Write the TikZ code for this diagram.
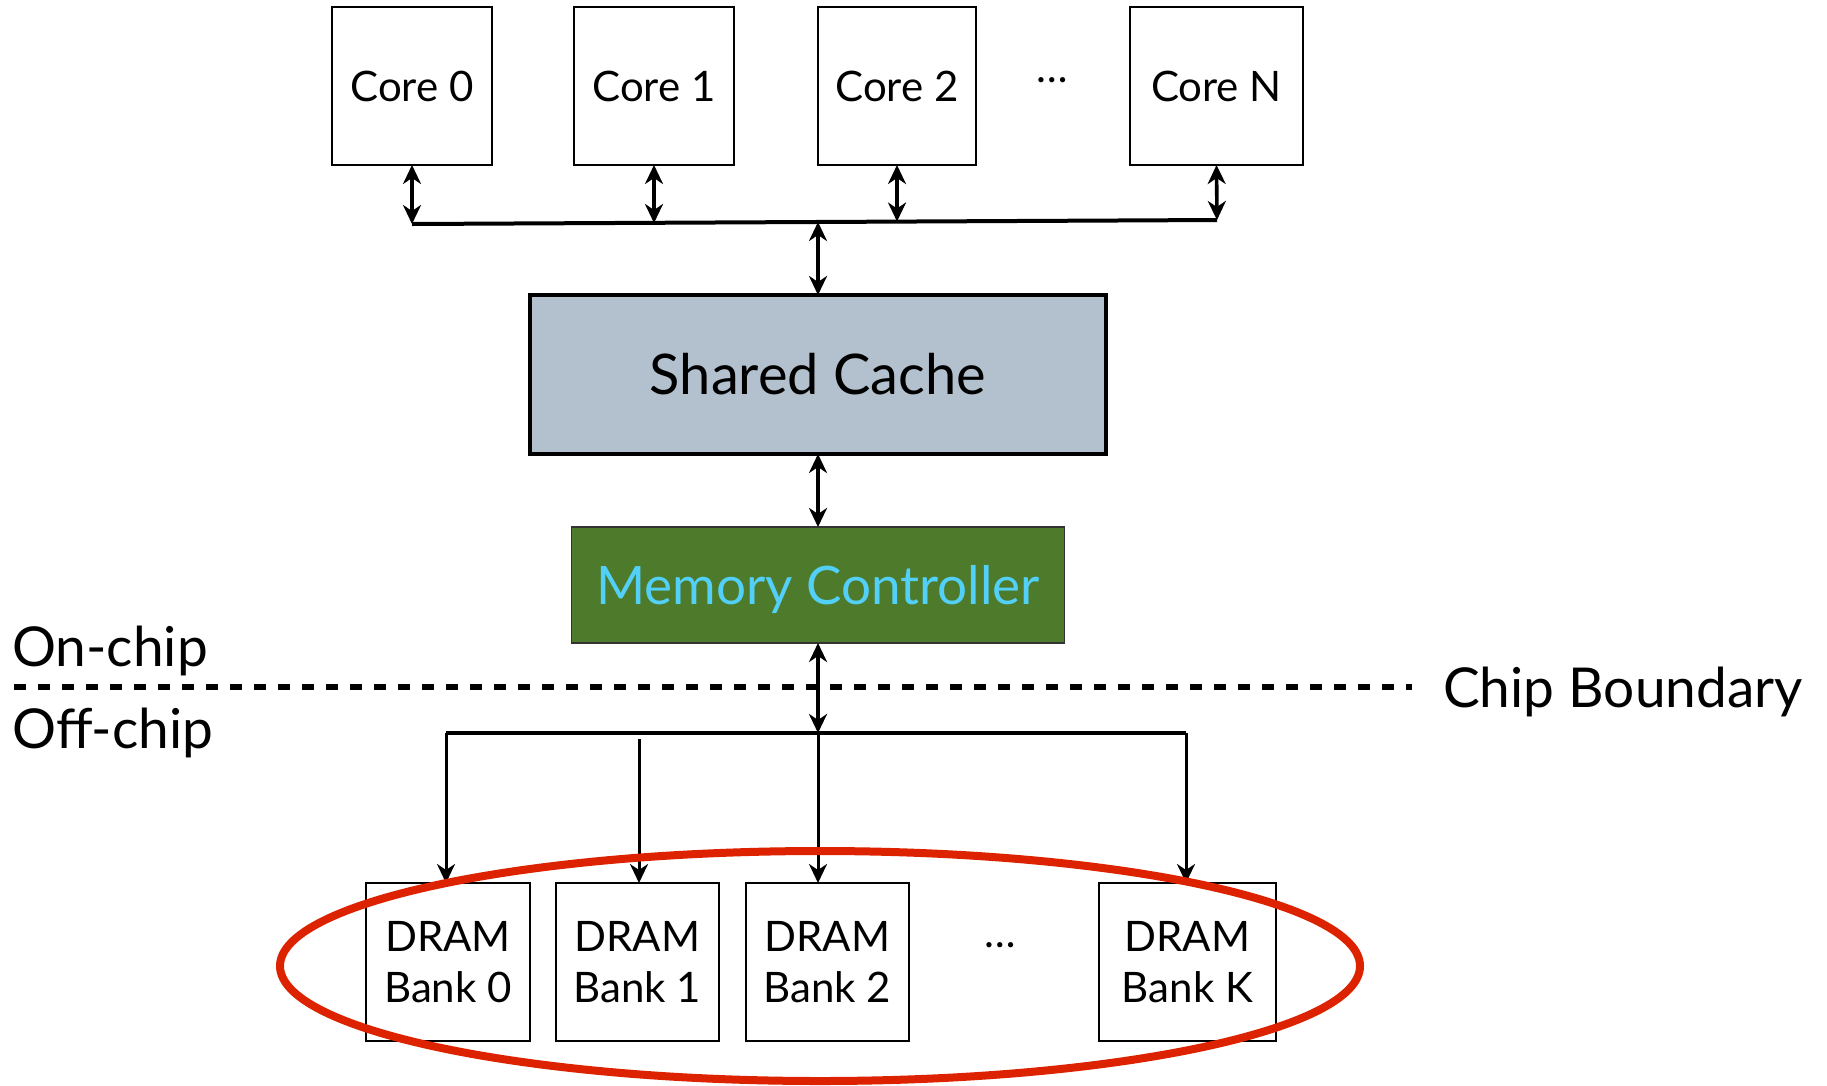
\documentclass[tikz,border=0pt]{standalone}
\usepackage{fontspec}
\setmainfont{Lato}
\usetikzlibrary{arrows.meta,shapes.geometric}
\definecolor{cachefill}{HTML}{B3C1CE}
\definecolor{mcfill}{HTML}{4E7A2C}
\definecolor{mctext}{HTML}{52D0F8}
\definecolor{ringred}{HTML}{DD2200}
\tikzset{
  box/.style={draw=black, line width=1.8pt, fill=white, inner sep=0pt, outer sep=0pt, align=center},
  corebox/.style={box, minimum height=158pt, font=\fontsize{42}{46}\selectfont},
  drambox/.style={box, minimum height=158pt, font=\fontsize{42}{51}\selectfont},
  tipb/.tip={Stealth[length=19pt,width=18pt,inset=6pt]},
  biarrow/.style={line width=3.6pt, tipb-tipb},
  downarrow/.style={line width=3pt, -tipb},
  busline/.style={line width=4pt},
  sidelabel/.style={anchor=base west, inner sep=0pt, font=\fontsize{55}{60}\selectfont},
}
\begin{document}
\begin{tikzpicture}[x=1pt,y=-1pt]
\useasboundingbox (0,0) rectangle (1827,1085);
% cores
\node[corebox, minimum width=160pt] (c0) at (412,86) {Core 0};
\node[corebox, minimum width=160pt] (c1) at (654,86) {Core 1};
\node[corebox, minimum width=158pt] (c2) at (897,86) {Core 2};
\node[corebox, minimum width=173pt] (cN) at (1216.5,86) {Core N};
\node[font=\fontsize{42}{46}\selectfont, inner sep=0pt] (cdots) at (1052,80) {\dots};
% upper bus
\coordinate (ub0) at (412,224);
\coordinate (ub1) at (654,223);
\coordinate (ubm) at (818,222);
\coordinate (ub2) at (897,221.5);
\coordinate (ubN) at (1217,220);
\draw[busline] (ub0) -- (ubN);
\draw[biarrow] (c0.south) -- (ub0);
\draw[biarrow] (c1.south) -- (ub1);
\draw[biarrow] (c2.south) -- (ub2);
\draw[biarrow] (cN.south) -- (ubN);
% shared cache
\node[box, line width=3.8pt, fill=cachefill, minimum width=576pt, minimum height=159pt,
      font=\fontsize{56}{62}\selectfont] (cache) at (818,374.5) {Shared Cache};
\draw[biarrow] (ubm) -- (cache.north);
% memory controller
\node[box, fill=mcfill, draw=black!80, minimum width=493pt, minimum height=116pt,
      font=\fontsize{53}{58}\selectfont, text=mctext, text depth=0pt] (mc) at (818,585) {Memory Controller};
\draw[biarrow] (cache.south) -- (mc.north);
% chip boundary
\coordinate (bl) at (14,687);
\coordinate (br) at (1412,687);
\draw[line width=6pt, dash pattern=on 12pt off 12pt] (bl) -- (br);
\node[sidelabel] (on) at (12,666) {On-chip};
\node[sidelabel] (off) at (12,748) {Off-chip};
\node[sidelabel] (cb) at (1443,707) {Chip Boundary};
% lower bus
\coordinate (lb0) at (446,733);
\coordinate (lbm) at (818,733);
\coordinate (lbK) at (1186,733);
\coordinate (lb1) at (639,739);
\draw[busline] (lb0) -- (lbK);
\draw[biarrow] (mc.south) -- (lbm);
% dram banks
\node[drambox, minimum width=164pt] (d0) at (448,962) {DRAM\\Bank 0};
\node[drambox, minimum width=163pt] (d1) at (637.5,962) {DRAM\\Bank 1};
\node[drambox, minimum width=163pt] (d2) at (827.5,962) {DRAM\\Bank 2};
\node[drambox, minimum width=177pt] (dK) at (1187.5,962) {DRAM\\Bank K};
\node[font=\fontsize{42}{46}\selectfont, inner sep=0pt] (ddots) at (1000,945) {\dots};
\draw[downarrow] (lb0) -- (lb0 |- d0.north);
\draw[downarrow] (lb1) -- (lb1 |- d1.north);
\draw[downarrow] (lbm) -- (lbm |- d2.north);
\draw[downarrow] (lbK) -- (lbK |- dK.north);
% red ring
\node[draw=ringred, line width=8pt, ellipse, inner sep=0pt, minimum width=1080pt, minimum height=230pt] (ring) at (820,966) {};
\end{tikzpicture}
\end{document}
